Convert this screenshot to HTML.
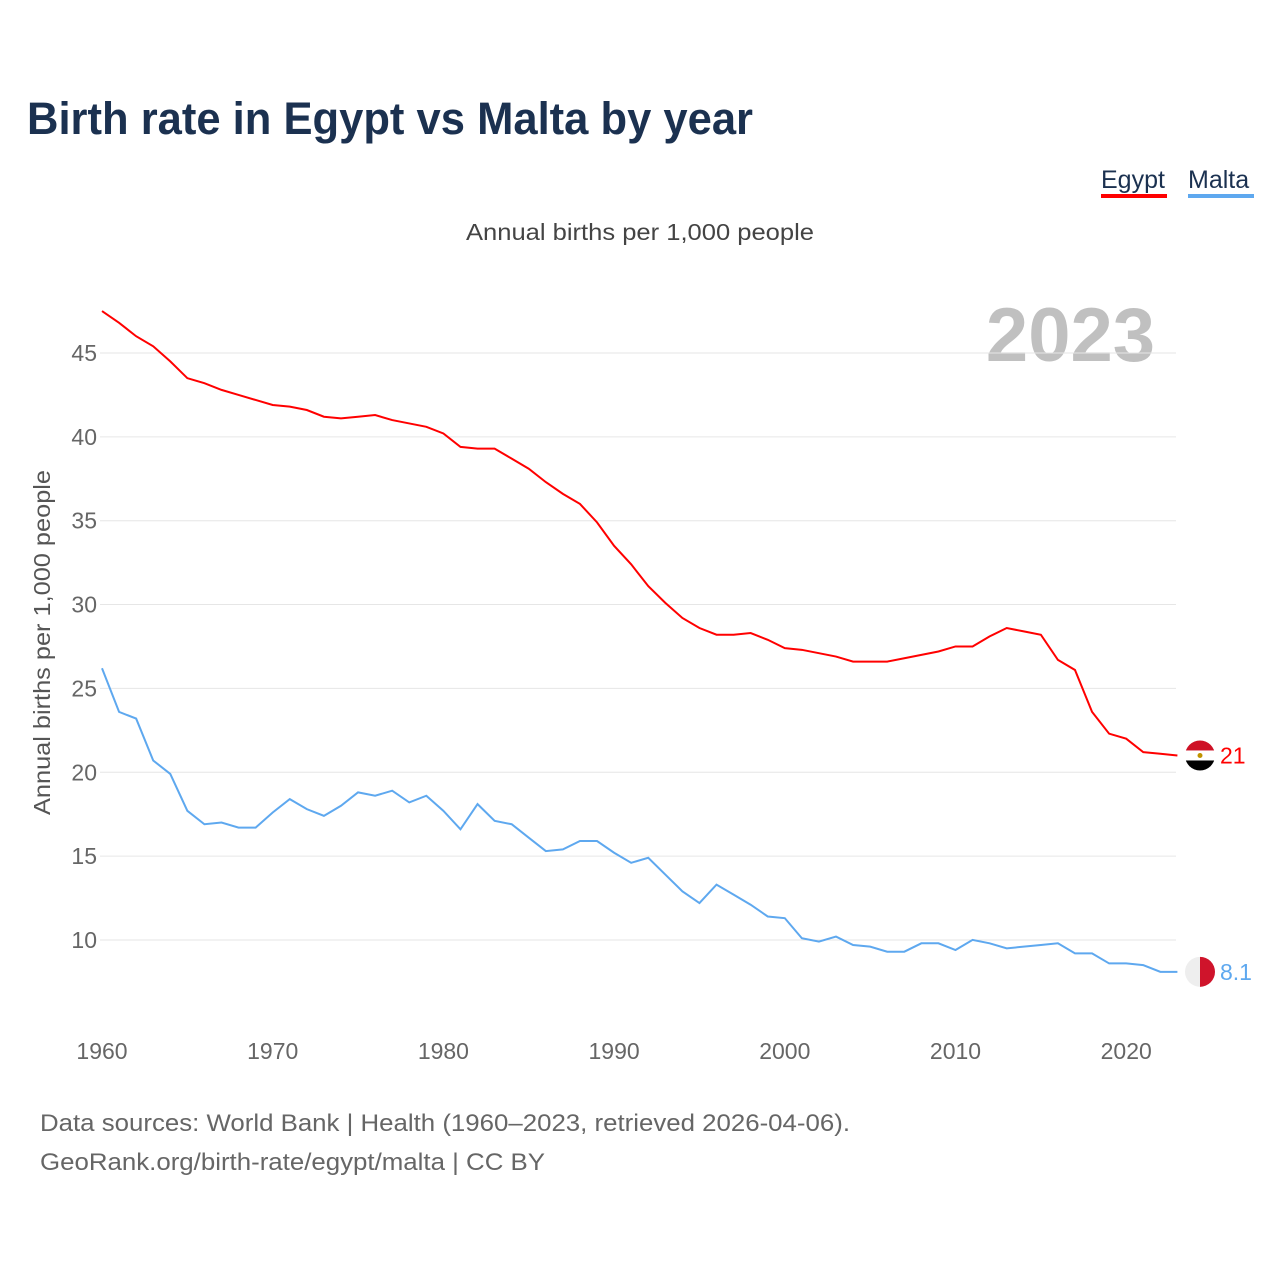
<!DOCTYPE html>
<html><head><meta charset="utf-8"><style>
body{margin:0;background:#fff;font-family:"Liberation Sans",sans-serif}
</style></head><body>
<svg width="1280" height="1280" xmlns="http://www.w3.org/2000/svg">
<text x="27" y="134" font-size="45" font-weight="bold" fill="#1b3150" textLength="726" lengthAdjust="spacingAndGlyphs">Birth rate in Egypt vs Malta by year</text>
<g>
<text x="1101" y="188" font-size="25" fill="#1b3150">Egypt</text>
<rect x="1101" y="194" width="66" height="4" fill="#ff0000"/>
<text x="1188" y="188" font-size="25" fill="#1b3150">Malta</text>
<rect x="1188" y="194" width="66" height="4" fill="#5ea8ef"/>
</g>
<text x="466" y="240" font-size="23" fill="#444" textLength="348" lengthAdjust="spacingAndGlyphs">Annual births per 1,000 people</text>
<text x="1155" y="361" font-size="76" font-weight="bold" fill="#c0c0c0" text-anchor="end">2023</text>
<text transform="translate(50,815) rotate(-90)" font-size="23" fill="#555" textLength="345" lengthAdjust="spacingAndGlyphs">Annual births per 1,000 people</text>
<g id="grid"></g><g id="xt"></g><g id="lines"></g>
<text x="40" y="1131" font-size="24" fill="#666" textLength="810" lengthAdjust="spacingAndGlyphs">Data sources: World Bank | Health (1960–2023, retrieved 2026-04-06).</text>
<text x="40" y="1170" font-size="24" fill="#666" textLength="505" lengthAdjust="spacingAndGlyphs">GeoRank.org/birth-rate/egypt/malta | CC BY</text>
</svg>
<script>
const years=[];for(let y=1960;y<=2023;y++)years.push(y);
const egypt=[47.5,46.8,46.0,45.4,44.5,43.5,43.2,42.8,42.5,42.2,41.9,41.8,41.6,41.2,41.1,41.2,41.3,41.0,40.8,40.6,40.2,39.4,39.3,39.3,38.7,38.1,37.3,36.6,36.0,34.9,33.5,32.4,31.1,30.1,29.2,28.6,28.2,28.2,28.3,27.9,27.4,27.3,27.1,26.9,26.6,26.6,26.6,26.8,27.0,27.2,27.5,27.5,28.1,28.6,28.4,28.2,26.7,26.1,23.6,22.3,22.0,21.2,21.1,21.0];
const malta=[26.2,23.6,23.2,20.7,19.9,17.7,16.9,17.0,16.7,16.7,17.6,18.4,17.8,17.4,18.0,18.8,18.6,18.9,18.2,18.6,17.7,16.6,18.1,17.1,16.9,16.1,15.3,15.4,15.9,15.9,15.2,14.6,14.9,13.9,12.9,12.2,13.3,12.7,12.1,11.4,11.3,10.1,9.9,10.2,9.7,9.6,9.3,9.3,9.8,9.8,9.4,10.0,9.8,9.5,9.6,9.7,9.8,9.2,9.2,8.6,8.6,8.5,8.1,8.1];
const yTicks=[10,15,20,25,30,35,40,45];
const xTicks=[1960,1970,1980,1990,2000,2010,2020];
const X=y=>102+(y-1960)*17.07, Y=v=>353-(v-45)*16.77;
const NS="http://www.w3.org/2000/svg";
function mk(t,a,p){const e=document.createElementNS(NS,t);for(const k in a)e.setAttribute(k,a[k]);p.appendChild(e);return e;}
const grid=document.getElementById('grid');
yTicks.forEach(v=>{
 const l=mk('line',{x1:100,x2:1176,y1:Y(v),y2:Y(v),stroke:'#e6e6e6'},grid);
 
 
 const t=mk('text',{x:97,y:Y(v)+8,'font-size':23,fill:'#666','text-anchor':'end'},grid);t.textContent=v;
 
 
});
const xt=document.getElementById('xt');
xTicks.forEach(v=>{
 const t=mk('text',{x:X(v),y:1059,'font-size':23,fill:'#666','text-anchor':'middle'},xt);t.textContent=v;
 
 
});
const lines=document.getElementById('lines');
function series(d,c,name){
 const p=mk('polyline',{points:d.map((v,i)=>X(years[i])+','+Y(v)).join(' '),fill:'none',stroke:c,'stroke-width':2},lines);
 
 
}
series(egypt,'#ff0000','egypt');series(malta,'#5ea8ef','malta');
const ey=Y(egypt[egypt.length-1]), my=Y(malta[malta.length-1]);
const g1=mk('g',{},lines);


const cp=mk('clipPath',{id:'c1'},g1);
mk('circle',{cx:1200,cy:ey,r:15},cp);
mk('rect',{x:1185,y:ey-15,width:30,height:10,fill:'#ce1126','clip-path':'url(#c1)'},g1);
mk('rect',{x:1185,y:ey-5,width:30,height:10,fill:'#fff','clip-path':'url(#c1)'},g1);
mk('rect',{x:1185,y:ey+5,width:30,height:10,fill:'#000','clip-path':'url(#c1)'},g1);
mk('circle',{cx:1200,cy:ey,r:2.5,fill:'#c09300'},g1);
const g2=mk('g',{},lines);


mk('path',{d:`M1200 ${my-15} A15 15 0 0 0 1200 ${my+15} Z`,fill:'#eee'},g2);
mk('path',{d:`M1200 ${my-15} A15 15 0 0 1 1200 ${my+15} Z`,fill:'#cf142b'},g2);
const t1=mk('text',{x:1220,y:ey+8,'font-size':23,fill:'#ff0000'},lines);t1.textContent='21';


const t2=mk('text',{x:1220,y:my+8,'font-size':23,fill:'#5ea8ef'},lines);t2.textContent='8.1';


</script>
</body></html>
